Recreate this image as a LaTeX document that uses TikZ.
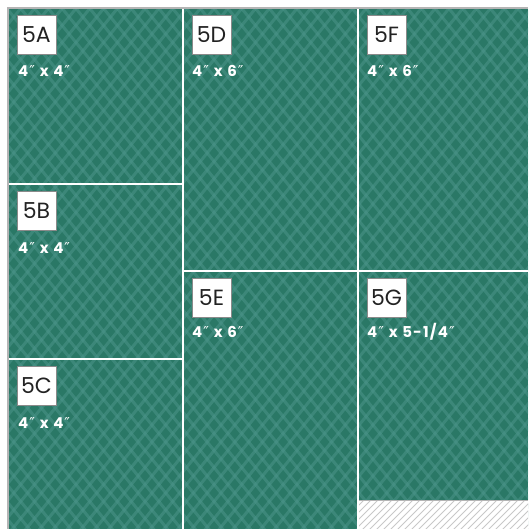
\documentclass[tikz,border=0pt]{standalone}
\usepackage{fontspec}
\setmainfont{Poppins}
\newfontfamily\dimfont{Poppins}[LetterSpace=8]
\newfontfamily\primefont{DejaVu Sans}
\newcommand{\dprime}{{\primefont\mdseries\fontsize{15}{15}\selectfont\kern1pt″\kern0.5pt}}
\newcommand{\gap}{\hspace{4.5pt}}
\definecolor{fabric}{HTML}{2A7866}
\definecolor{lattice}{HTML}{4B958A}
\definecolor{frame}{HTML}{B4B4B4}
\definecolor{hatch}{HTML}{C8C8C8}
\definecolor{boxline}{HTML}{8A8A8A}
\definecolor{boxtext}{HTML}{222222}
\tikzset{
  latline/.style={lattice, line width=3pt, opacity=0.55},
  seam/.style={white, line width=1.5pt},
  labbox/.style={draw=boxline, line width=0.7pt, fill=white, minimum size=39pt, inner sep=0pt, text=boxtext, font=\fontsize{22}{22}\selectfont},
  dim/.style={anchor=base west, inner sep=0pt, text=white, font=\dimfont\fontsize{15}{15}\selectfont\bfseries}
}
\begin{document}
\begin{tikzpicture}[x=1pt,y=-1pt]
\useasboundingbox (0,0) rectangle (528,529);
\fill[white] (0,0) rectangle (528,529);
\begin{scope}
  \clip (9,9) rectangle (528,529);
  \fill[fabric] (9,9) rectangle (528,529);
  \foreach \k in {-40,...,35} \draw[latline] (0,\k*17) -- (540,\k*17+664.6);
  \foreach \k in {0,...,72} \draw[latline] (0,\k*17) -- (540,\k*17-664.6);
\end{scope}
% hatched unused strip
\fill[white] (358,500) rectangle (528,529);
\begin{scope}
  \clip (358,500) rectangle (528,529);
  \foreach \x in {320,327,...,540} \draw[hatch, line width=0.8pt] (\x,530) -- (\x+31,499);
\end{scope}
\draw[frame, line width=1pt] (358,500) -- (528,500);
% seams
\draw[seam] (183,9) -- (183,529);
\draw[seam] (358,9) -- (358,529);
\draw[seam] (9,184) -- (183,184);
\draw[seam] (9,359) -- (183,359);
\draw[seam] (183,271) -- (528,271);
% outer frame
\draw[frame, line width=1.5pt] (8,529) -- (8,8) -- (528,8);
% labels
\node[labbox] (boxA) at (36.5,34.5) {5A};
\node[labbox] (boxB) at (36.5,210.5) {5B};
\node[labbox] (boxC) at (36.5,385.5) {5C};
\node[labbox] (boxD) at (211.5,34.5) {5D};
\node[labbox] (boxE) at (211.5,297.5) {5E};
\node[labbox] (boxF) at (386.5,34.5) {5F};
\node[labbox] (boxG) at (386.5,297.5) {5G};
\node[dim] (dimA) at (18,77) {4\dprime\gap x\gap 4\dprime};
\node[dim] (dimB) at (18,253) {4\dprime\gap x\gap 4\dprime};
\node[dim] (dimC) at (18,428) {4\dprime\gap x\gap 4\dprime};
\node[dim] (dimD) at (192,77) {4\dprime\gap x\gap 6\dprime};
\node[dim] (dimE) at (192,337) {4\dprime\gap x\gap 6\dprime};
\node[dim] (dimF) at (367,77) {4\dprime\gap x\gap 6\dprime};
\node[dim] (dimG) at (367,337) {4\dprime\gap x\gap 5-1/4\dprime};
\end{tikzpicture}
\end{document}
